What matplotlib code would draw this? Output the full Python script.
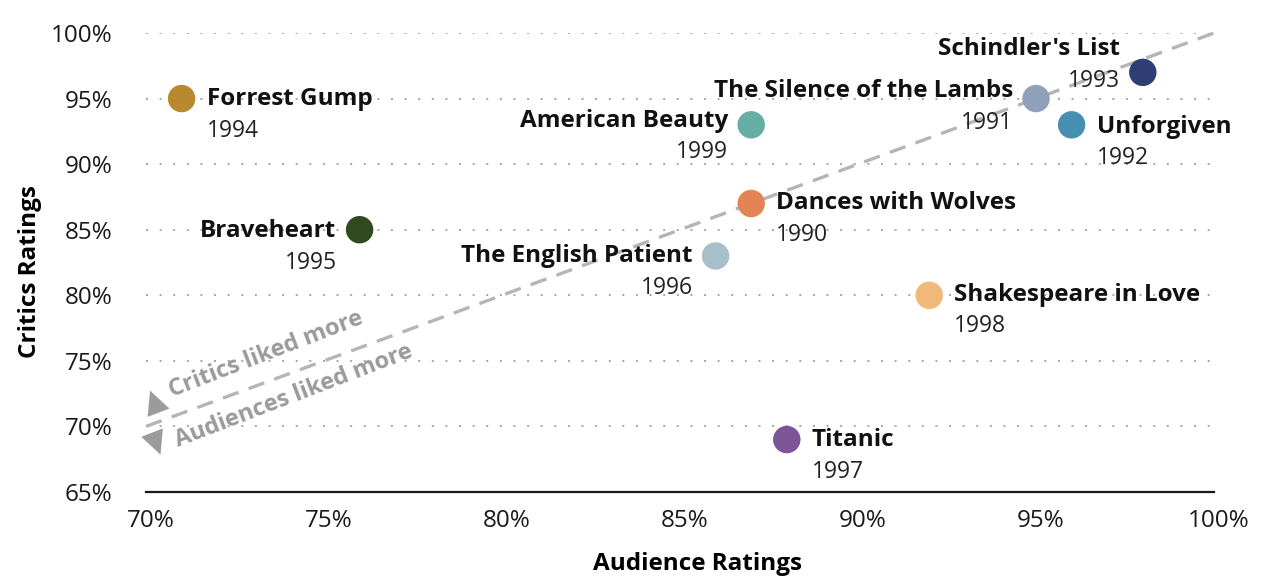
import matplotlib
matplotlib.use("Agg")
import matplotlib.pyplot as plt
import matplotlib.transforms as mtransforms
from matplotlib.ticker import FuncFormatter, MultipleLocator

plt.rcParams["font.family"] = ["Open Sans", "DejaVu Sans"]

# data
movies = ["Forrest Gump", "Braveheart", "American Beauty", "Dances with Wolves",
          "The English Patient", "Shakespeare in Love", "Titanic",
          "The Silence of the Lambs", "Unforgiven", "Schindler's List"]
years = ["1994", "1995", "1999", "1990", "1996", "1998", "1997", "1991", "1992", "1993"]
audience = [71, 76, 87, 87, 86, 92, 88, 95, 96, 98]
critics = [95, 85, 93, 87, 83, 80, 69, 95, 93, 97]
colors = ["#B8892E", "#2E4A1E", "#66ADA6", "#E38454", "#A8BEC8",
          "#F0B97A", "#7E5499", "#8FA0BA", "#478FB0", "#2F3D75"]

# label placement (pixel offsets from the dot): side, name dy, year dy
label_layout = {
    "Forrest Gump": ("right", 0, -32),
    "Braveheart": ("left", -1, -33),
    "American Beauty": ("left", 4, -27),
    "Dances with Wolves": ("right", 0, -32),
    "The English Patient": ("left", 0, -32),
    "Shakespeare in Love": ("right", 0, -31),
    "Titanic": ("right", 0, -32),
    "The Silence of the Lambs": ("left", 8, -24),
    "Unforgiven": ("right", -2, -33),
    "Schindler's List": ("left", 23, -9),
}

fig = plt.figure(figsize=(12.69, 5.78), dpi=100)
ax = fig.add_axes([146 / 1269, 0.1488, 1068 / 1269, 0.7941])

ax.set_xlim(70, 100)
ax.set_ylim(65, 100)

# diagonal "equal ratings" line
ax.plot([70, 100], [70, 100], color="#B5B5B8", lw=2.4, ls=(0, (5, 3.2)), zorder=2,
        clip_on=False)

ax.scatter(audience, critics, s=390, c=colors, edgecolors="none", zorder=3, clip_on=False)

for name, yr, x, y in zip(movies, years, audience, critics):
    side, ndy, ydy = label_layout[name]
    dx = 25 if side == "right" else -23
    ha = "left" if side == "right" else "right"
    ax.annotate(name, (x, y), xytext=(dx, ndy), textcoords="offset pixels",
                ha=ha, va="center", fontsize=17.5, fontweight="bold", color="#111111",
                zorder=4)
    ax.annotate(yr, (x, y), xytext=(dx, ydy), textcoords="offset pixels",
                ha=ha, va="center", fontsize=16.5, color="#222222", zorder=4)

note_color = "#9B9B9E"
ax.text(70.25, 71.9, "▲", rotation=21, ha="center", va="center", fontsize=22,
        color=note_color, family="DejaVu Sans")
ax.text(70.3, 68.7, "▼", rotation=21, ha="center", va="center", fontsize=22,
        color=note_color, family="DejaVu Sans")
ax.text(70.73, 72.25, "Critics liked more", rotation=21, rotation_mode="anchor",
        ha="left", va="baseline", fontsize=17, fontweight="bold", color=note_color)
ax.text(70.9, 68.4, "Audiences liked more", rotation=21, rotation_mode="anchor",
        ha="left", va="baseline", fontsize=17, fontweight="bold", color=note_color)

# axes styling
ax.yaxis.set_major_locator(MultipleLocator(5))
ax.xaxis.set_major_locator(MultipleLocator(5))
pct = FuncFormatter(lambda v, _: f"{v:.0f}%")
ax.xaxis.set_major_formatter(pct)
ax.yaxis.set_major_formatter(pct)
ax.tick_params(axis="both", length=0, labelsize=17.5, colors="#1A1A1A")
ax.tick_params(axis="y", pad=24)
ax.tick_params(axis="x", pad=12)

# the reference sets its x tick labels a little right of the ticks
shift = mtransforms.ScaledTranslation(5 / 100, 0, fig.dpi_scale_trans)
for lbl in ax.get_xticklabels():
    lbl.set_transform(lbl.get_transform() + shift)

for yv in range(70, 101, 5):
    ax.axhline(yv, color="#A6A6A6", lw=1.4, ls=(0, (1, 6)), zorder=1)

for side in ["left", "right", "top"]:
    ax.spines[side].set_visible(False)
ax.spines["bottom"].set_color("#1A1A1A")
ax.spines["bottom"].set_linewidth(1.6)

ax.set_ylabel("Critics Ratings", fontsize=17.5, fontweight="bold")
ax.yaxis.set_label_coords(-0.097, 0.48)
ax.set_xlabel("Audience Ratings", fontsize=17.5, fontweight="bold")
ax.xaxis.set_label_coords(0.516, -0.13)

fig.savefig("out.png", dpi=100)
